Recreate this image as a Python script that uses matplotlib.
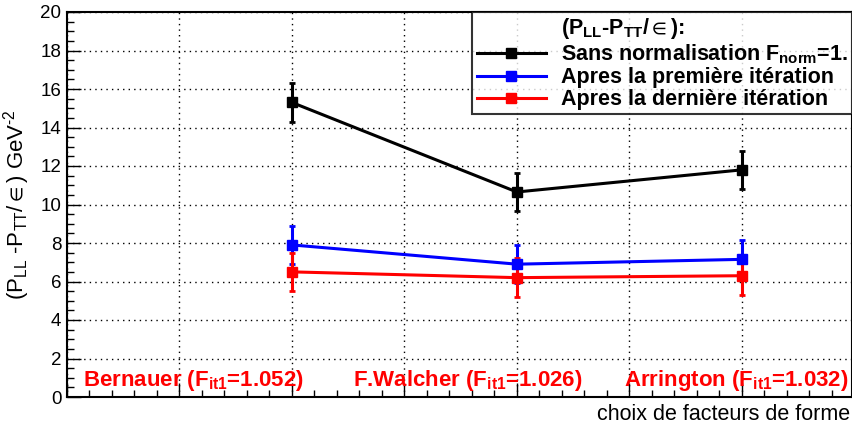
import matplotlib
matplotlib.use("Agg")
import matplotlib.pyplot as plt
from matplotlib.lines import Line2D
from matplotlib.ticker import MultipleLocator, NullFormatter

plt.rcParams['font.family'] = ['Liberation Sans', 'DejaVu Sans']
plt.rcParams['mathtext.fontset'] = 'custom'
plt.rcParams['mathtext.rm'] = 'Liberation Sans'
plt.rcParams['mathtext.it'] = 'Liberation Sans'
plt.rcParams['mathtext.bf'] = 'Liberation Sans:bold'
plt.rcParams['mathtext.fallback'] = 'stixsans'

x_pos = [1, 2, 3]
labels = ["Bernauer (F$_{\\mathbf{it1}}$=1.052)",
          "F.Walcher (F$_{\\mathbf{it1}}$=1.026)",
          "Arrington (F$_{\\mathbf{it1}}$=1.032)"]
label_x = [0.56, 1.78, 2.975]

sans_norm = [15.3, 10.65, 11.8]
sans_norm_err = [1.0, 1.0, 1.0]
premiere = [7.9, 6.9, 7.15]
premiere_err = [1.0, 1.0, 1.0]
derniere = [6.5, 6.2, 6.3]
derniere_err = [1.0, 1.0, 1.0]

legend_title = "(P$_{\\mathbf{LL}}$-P$_{\\mathbf{TT}}$/${\\in}$):"
series = [
    (sans_norm, sans_norm_err, 'black', "Sans normalisation F$_{\\mathbf{norm}}$=1."),
    (premiere, premiere_err, '#0000ff', "Apres la première itération"),
    (derniere, derniere_err, '#ff0000', "Apres la dernière itération"),
]

fig = plt.figure(figsize=(8.52, 4.34), dpi=100)
ax = fig.add_axes([67/852, 37/434, 785/852, 385/434])

handles = [Line2D([], [], lw=0, marker=None)]
names = [legend_title]
for vals, errs, col, lab in series:
    ax.errorbar(x_pos, vals, yerr=errs, color=col, lw=2.2, marker='s', ms=7,
                elinewidth=2.2, capsize=2, capthick=2, zorder=3)
    handles.append(Line2D([], [], color=col, lw=2.2, marker='s', ms=7))
    names.append(lab)

ax.set_xlim(0, 3.49)
ax.set_ylim(0, 20)
ax.xaxis.set_major_locator(MultipleLocator(0.5))
ax.xaxis.set_minor_locator(MultipleLocator(0.1))
ax.yaxis.set_major_locator(MultipleLocator(2))
ax.yaxis.set_minor_locator(MultipleLocator(0.5))
ax.xaxis.set_major_formatter(NullFormatter())
ax.tick_params(which='both', direction='in', top=False, right=False)
ax.tick_params(which='major', length=10, width=1)
ax.tick_params(which='minor', length=5, width=1)
ax.tick_params(axis='y', labelsize=13.5, pad=4)
ax.grid(True, which='major', ls=(0, (1, 3)), color='black', lw=1)
for s in ax.spines.values():
    s.set_linewidth(1.5)

for lx, t in zip(label_x, labels):
    ax.text(lx, 0.85, t, color='red', fontsize=16, fontweight='bold',
            ha='center', va='center', zorder=4)

ax.set_ylabel("(P$_{LL}$ -P$_{TT}$/${\\in}$) GeV$^{\\text{-2}}$", fontsize=16, labelpad=6)
fig.text(0.998, 1 - 415/434, "choix de facteurs de forme", fontsize=15.5,
         ha='right', va='center')

leg = ax.legend(handles, names,
                loc='upper right', bbox_to_anchor=(1.0, 1.0),
                prop={'weight': 'bold', 'size': 15.5},
                frameon=True, fancybox=False, edgecolor='black',
                handlelength=3.2, borderpad=0.2, labelspacing=0.05,
                handletextpad=0.7, borderaxespad=0.0)
leg.get_frame().set_linewidth(1.5)
leg.set_zorder(5)

fig.savefig("out.png", dpi=100)
